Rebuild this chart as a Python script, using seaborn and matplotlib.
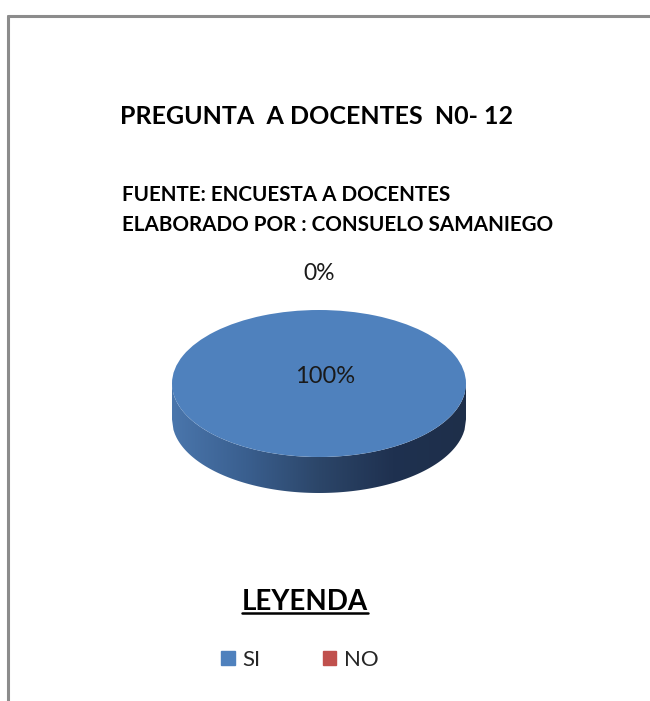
import numpy as np
import pandas as pd
import matplotlib
matplotlib.use("Agg")
import matplotlib.pyplot as plt
import seaborn as sns
from matplotlib.patches import Patch, Polygon
from matplotlib.colors import LinearSegmentedColormap
from matplotlib.lines import Line2D

# ---- data ----
categories = ["SI", "NO"]
values = [100, 0]
slice_colors = ["#4f81bd", "#c0504d"]
title_text = "PREGUNTA  A DOCENTES  N0- 12"
source_lines = ["FUENTE: ENCUESTA A DOCENTES", "ELABORADO POR : CONSUELO SAMANIEGO"]
legend_title = "LEYENDA"

df = pd.DataFrame({"categoria": categories, "valor": values})

sns.set_theme(style="white")
plt.rcParams["font.family"] = ["Lato", "DejaVu Sans"]

W, H = 650, 701
fig = plt.figure(figsize=(W / 100, H / 100), dpi=100)
fig.patch.set_facecolor("white")

def fx(px):
    return px / W

def fy(py):
    return 1 - py / H

# border
fig.add_artist(Line2D([fx(8), fx(8)], [fy(16), 0], color="#8c8c8c", lw=2.2, transform=fig.transFigure))
fig.add_artist(Line2D([fx(8), 1], [fy(16), fy(16)], color="#8c8c8c", lw=2.2, transform=fig.transFigure))

# pie axes
left, right, top, bottom = 172, 466, 310, 493
ax = fig.add_axes([fx(left), fy(bottom), (right - left) / W, (bottom - top) / H])
depth = 0.49

pal = sns.color_palette(slice_colors)
wedges, _ = ax.pie(df["valor"], colors=pal, startangle=90, counterclock=False,
                   radius=1, center=(0, 0), frame=False,
                   wedgeprops=dict(linewidth=0, zorder=3))
ax.set_aspect("auto")
ax.set_xlim(-1, 1)
ax.set_ylim(-1 - depth, 1)
ax.axis("off")

# side of the 3D pie (gradient), shaded version of the dominant slice
xs = np.linspace(-1, 1, 200)
lower = -np.sqrt(np.clip(1 - xs ** 2, 0, None))
pts = [(-1, 0), (-1, -depth)] + list(zip(xs, lower - depth)) + [(1, -depth), (1, 0)] + list(zip(xs[::-1], lower[::-1]))
poly = Polygon(pts, closed=True, facecolor="none", edgecolor="none", transform=ax.transData)
ax.add_patch(poly)
cmap = LinearSegmentedColormap.from_list("side", ["#4a76ac", "#3a5f8f", "#2c4669", "#1f3150", "#1e2f4a"])
grad = np.linspace(0, 1, 256).reshape(1, -1)
im = ax.imshow(grad, cmap=cmap, extent=(-1, 1, -1 - depth, 0.01), aspect="auto", zorder=1,
               interpolation="bilinear")
im.set_clip_path(poly)

# percentage labels
total = sum(values)
pcts = [f"{v / total:.0%}" for v in values]
ax.text(0.04, 0.10, pcts[0], ha="center", va="center", fontsize=17, color="#1a1a1a", zorder=5)
ax.text(0.0, 1.50, pcts[1], ha="center", va="center", fontsize=16.5, color="#1a1a1a", zorder=5,
        clip_on=False)

# titles
fig.text(fx(120), fy(117), title_text, ha="left", va="center", fontsize=18,
         fontweight="bold", color="black")
fig.text(fx(122), fy(195), source_lines[0], ha="left", va="center", fontsize=14.9,
         fontweight="bold", color="black")
fig.text(fx(122), fy(225), source_lines[1], ha="left", va="center", fontsize=14.9,
         fontweight="bold", color="black")

# legend title with underline
lt = fig.text(fx(305), fy(602), legend_title, ha="center", va="center", fontsize=20,
              fontweight="bold", color="black")
fig.canvas.draw()
bb = lt.get_window_extent().transformed(fig.transFigure.inverted())
fig.add_artist(Line2D([bb.x0, bb.x1], [fy(613), fy(613)], color="black", lw=1.8,
                      transform=fig.transFigure))

handles = [Patch(facecolor=c, edgecolor=c) for c in slice_colors]
fig.legend(handles, categories, loc="center", bbox_to_anchor=(fx(300), fy(660)), ncol=2,
           frameon=False, fontsize=16, handlelength=0.6, handleheight=0.6,
           handletextpad=0.35, columnspacing=2.8)

fig.savefig("out.png", dpi=100)
